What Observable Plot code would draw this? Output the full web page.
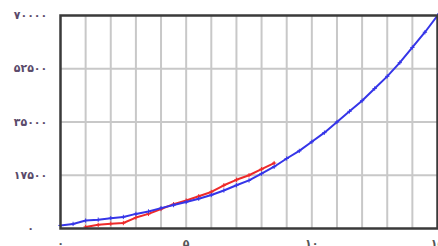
<!DOCTYPE html>
<html>
<head>
<meta charset="utf-8">
<script src="https://cdn.jsdelivr.net/npm/d3@7"></script>
<script src="https://cdn.jsdelivr.net/npm/@observablehq/plot@0.6"></script>
<style>
  html, body { margin: 0; padding: 0; background: #fff; }
  #chart { width: 438px; height: 246px; overflow: hidden; }
</style>
</head>
<body>
<div id="chart"></div>
<script>
const blueX = [0,0.5,1,1.5,2,2.5,3,3.5,4,4.5,5,5.5,6,6.5,7,7.5,8,8.5,9,9.5,10,10.5,11,11.5,12,12.5,13,13.5,14,14.5,15];
const blueY = [1000,1500,2600,2900,3400,3800,4800,5600,6700,7700,8700,9800,11000,12500,14200,15800,18000,20300,23000,25500,28500,31500,35000,38500,42000,46000,50000,54500,59500,64500,70000];
const redX = [1,1.5,2,2.5,3,3.5,4,4.5,5,5.5,6,6.5,7,7.5,8,8.5];
const redY = [500,1200,1600,1800,3600,4800,6400,8000,9200,10600,12000,14200,16000,17500,19500,21500];
const yTicks = [0,17500,35000,52500,70000];
const yTickLabels = ["۰","۱۷۵۰۰","۳۵۰۰۰","۵۲۵۰۰","۷۰۰۰۰"];
const xTicks = [0,5,10,15];
const xTickLabels = ["۰","۵","۱۰","۱۵"];
const xGrid = [1,2,3,4,5,6,7,8,9,10,11,12,13,14];

const blue = blueX.map((x,i) => ({x, y: blueY[i]}));
const red = redX.map((x,i) => ({x, y: redY[i]}));

const chart = Plot.plot({
  width: 438,
  height: 246,
  marginLeft: 60,
  marginRight: 1,
  marginTop: 15,
  marginBottom: 18,
  style: {fontFamily: "DejaVu Sans", fontSize: "11px", background: "#fff"},
  x: {domain: [0, 15], label: null},
  y: {domain: [0, 70000], label: null},
  marks: [
    Plot.ruleX(xGrid, {stroke: "#c8c8c8", strokeWidth: 2}),
    Plot.ruleY(yTicks.slice(1, -1), {stroke: "#c8c8c8", strokeWidth: 2}),
    Plot.axisY(yTicks, {tickSize: 0, tickPadding: 0, textAnchor: "middle", dx: -30, label: null,
      tickFormat: (d) => yTickLabels[yTicks.indexOf(d)], fill: "#5a4a6a", fontWeight: "bold"}),
    Plot.axisX(xTicks, {tickSize: 0, tickPadding: 11, label: null,
      tickFormat: (d) => xTickLabels[xTicks.indexOf(d)], fill: "#555", fontWeight: "bold"}),
    Plot.line(red, {x: "x", y: "y", stroke: "#ee2a2a", strokeWidth: 2}),
    Plot.dot(red, {x: "x", y: "y", stroke: "#ee2a2a", symbol: "plus", r: 1.5, strokeWidth: 1}),
    Plot.line(blue, {x: "x", y: "y", stroke: "#3535e8", strokeWidth: 2}),
    Plot.dot(blue, {x: "x", y: "y", stroke: "#3535e8", symbol: "plus", r: 1.5, strokeWidth: 1}),
    Plot.frame({stroke: "#3a3a3a", strokeWidth: 2.5})
  ]
});
document.getElementById("chart").appendChild(chart);
</script>
</body>
</html>
